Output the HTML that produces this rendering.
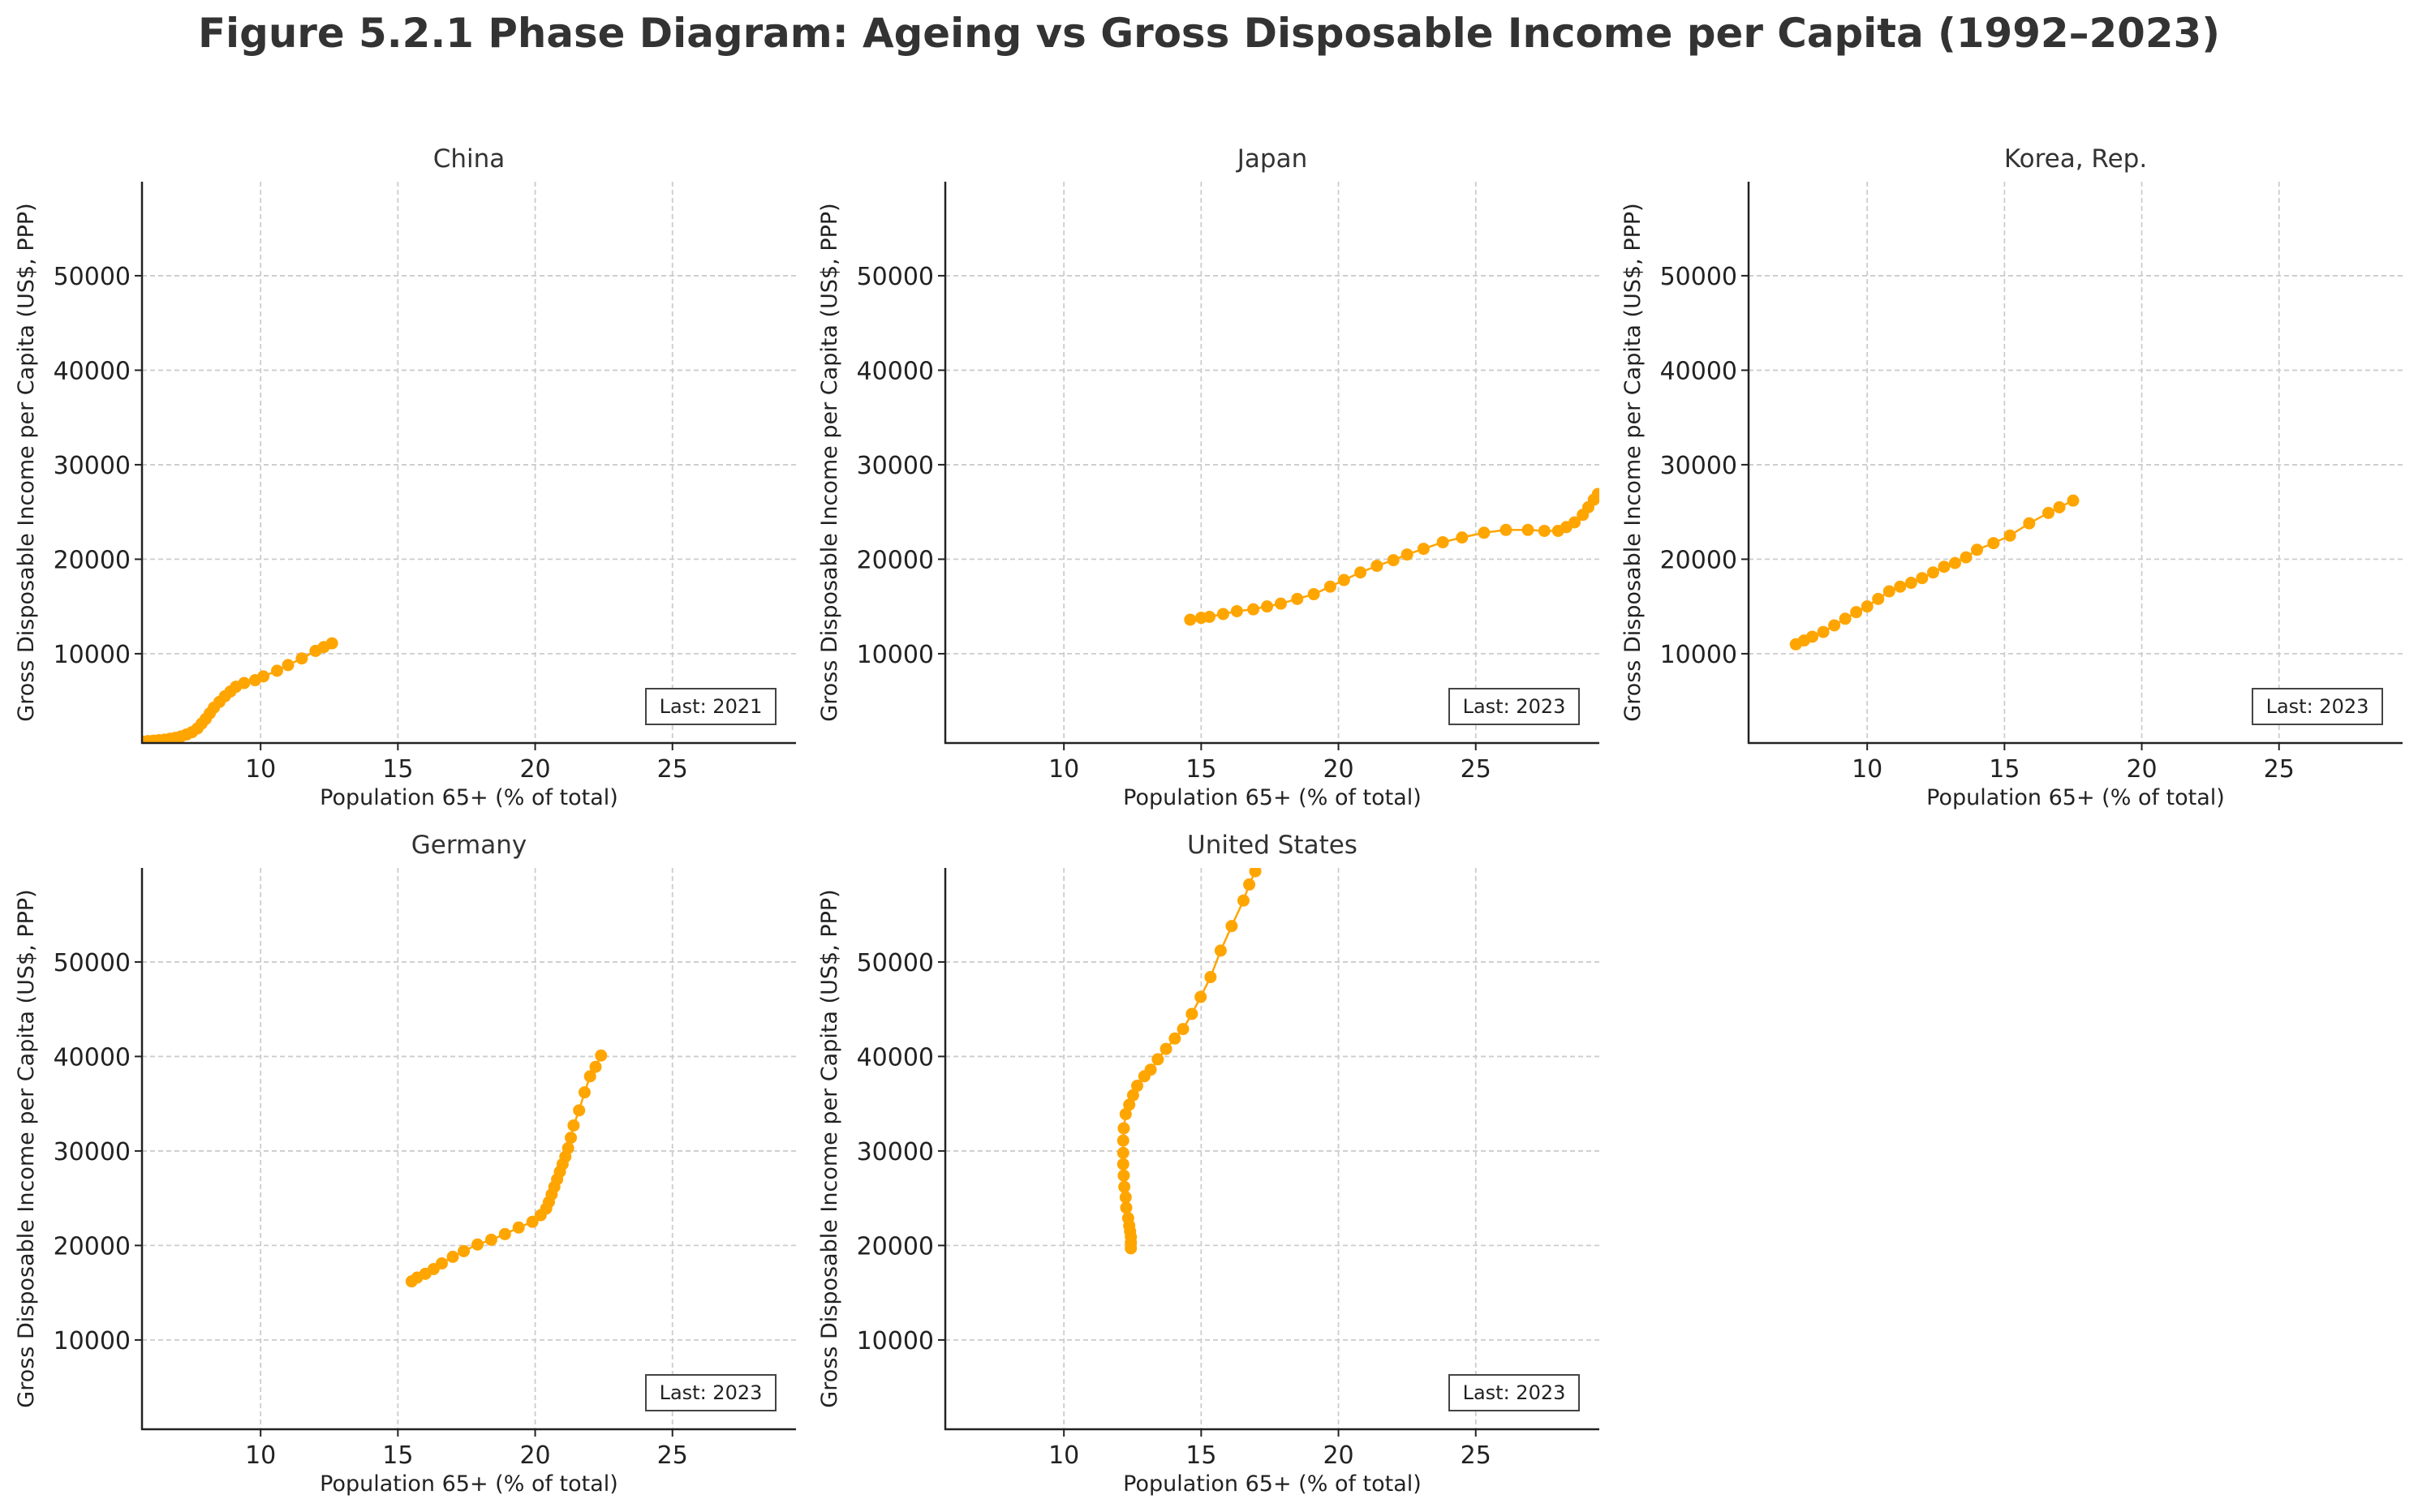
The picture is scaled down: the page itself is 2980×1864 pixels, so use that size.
<!DOCTYPE html>
<html><head><meta charset="utf-8">
<style>
html,body{margin:0;padding:0;background:#fff;}
svg{display:block;font-family:"DejaVu Sans","Liberation Sans",sans-serif;}
</style></head>
<body>
<svg id="s" width="2980" height="1864" viewBox="0 0 2980 1864" xmlns="http://www.w3.org/2000/svg">
<rect width="2980" height="1864" fill="#fff"/>
<text x="1490" y="58" text-anchor="middle" font-size="50" font-weight="bold" fill="#333" textLength="2492" lengthAdjust="spacingAndGlyphs">Figure 5.2.1 Phase Diagram: Ageing vs Gross Disposable Income per Capita (1992–2023)</text>
</svg>
<script>
const NS="http://www.w3.org/2000/svg";
const svg=document.getElementById('s');
function el(t,a,txt){const e=document.createElementNS(NS,t);for(const k in a)e.setAttribute(k,a[k]);if(txt!==undefined)e.textContent=txt;svg.appendChild(e);return e;}
const W=806,H=692,XMIN=5.68,XMAX=29.5,YMIN=550,YMAX=59950;
const panels=[
 {name:"China",x:175,y:224,last:"2021",d:[[5.7,700],[5.9,750],[6.1,800],[6.3,850],[6.5,900],[6.7,1000],[6.9,1100],[7.1,1250],[7.3,1450],[7.5,1700],[7.7,2100],[7.85,2600],[8.0,3100],[8.15,3700],[8.3,4300],[8.5,4900],[8.7,5500],[8.9,6000],[9.1,6500],[9.4,6900],[9.8,7200],[10.1,7600],[10.6,8200],[11.0,8800],[11.5,9500],[12.0,10300],[12.3,10700],[12.6,11100]]},
 {name:"Japan",x:1165,y:224,last:"2023",d:[[14.6,13600],[15.0,13800],[15.3,13900],[15.8,14200],[16.3,14500],[16.9,14700],[17.4,15000],[17.9,15300],[18.5,15800],[19.1,16300],[19.7,17100],[20.2,17800],[20.8,18600],[21.4,19300],[22.0,19900],[22.5,20500],[23.1,21100],[23.8,21800],[24.5,22300],[25.3,22800],[26.1,23100],[26.9,23100],[27.5,23000],[28.0,23000],[28.3,23400],[28.6,23900],[28.9,24700],[29.1,25500],[29.3,26300],[29.45,26900]]},
 {name:"Korea, Rep.",x:2155,y:224,last:"2023",d:[[7.4,11000],[7.7,11400],[8.0,11800],[8.4,12300],[8.8,13000],[9.2,13700],[9.6,14400],[10.0,15000],[10.4,15800],[10.8,16600],[11.2,17100],[11.6,17500],[12.0,18000],[12.4,18600],[12.8,19200],[13.2,19600],[13.6,20200],[14.0,21000],[14.6,21700],[15.2,22500],[15.9,23800],[16.6,24900],[17.0,25500],[17.5,26200]]},
 {name:"Germany",x:175,y:1070,last:"2023",d:[[15.5,16200],[15.7,16600],[16.0,17000],[16.3,17500],[16.6,18100],[17.0,18800],[17.4,19400],[17.9,20100],[18.4,20600],[18.9,21200],[19.4,21900],[19.9,22500],[20.2,23200],[20.4,23900],[20.5,24600],[20.6,25400],[20.7,26200],[20.8,27000],[20.9,27800],[21.0,28600],[21.1,29400],[21.2,30300],[21.3,31400],[21.4,32700],[21.6,34300],[21.8,36200],[22.0,37900],[22.2,38900],[22.4,40100]]},
 {name:"United States",x:1165,y:1070,last:"2023",d:[[12.44,19700],[12.44,20300],[12.44,20900],[12.41,21500],[12.38,22100],[12.34,22900],[12.27,24000],[12.25,25100],[12.2,26200],[12.18,27400],[12.16,28600],[12.16,29800],[12.16,31100],[12.18,32400],[12.25,33900],[12.38,34900],[12.52,35900],[12.67,36900],[12.93,37900],[13.16,38600],[13.42,39700],[13.72,40800],[14.04,41900],[14.34,42900],[14.66,44500],[14.98,46300],[15.34,48400],[15.71,51200],[16.11,53800],[16.54,56500],[16.75,58200],[16.97,59600]]}
];
panels.forEach((p,i)=>{
 const X=v=>p.x+(v-XMIN)/(XMAX-XMIN)*W, Y=v=>p.y+H-(v-YMIN)/(YMAX-YMIN)*H;
 const cid="c"+i;
 const cp=el('clipPath',{id:cid});const r=document.createElementNS(NS,'rect');
 r.setAttribute('x',p.x);r.setAttribute('y',p.y);r.setAttribute('width',W);r.setAttribute('height',H);cp.appendChild(r);
 [10,15,20,25].forEach(t=>{el('line',{x1:X(t),x2:X(t),y1:p.y,y2:p.y+H,stroke:'#ccc','stroke-width':1.8,'stroke-dasharray':'6,4'});
  el('line',{x1:X(t),x2:X(t),y1:p.y+H,y2:p.y+H+9,stroke:'#222','stroke-width':2});
  el('text',{x:X(t),y:p.y+H+42,'text-anchor':'middle','font-size':30,fill:'#222'},t);});
 [10000,20000,30000,40000,50000].forEach(t=>{el('line',{x1:p.x,x2:p.x+W,y1:Y(t),y2:Y(t),stroke:'#ccc','stroke-width':1.8,'stroke-dasharray':'6,4'});
  el('line',{x1:p.x-9,x2:p.x,y1:Y(t),y2:Y(t),stroke:'#222','stroke-width':2});
  el('text',{x:p.x-14,y:Y(t)+11,'text-anchor':'end','font-size':30,fill:'#222'},t);});
 const g=el('g',{'clip-path':'url(#'+cid+')'});
 const pl=document.createElementNS(NS,'polyline');
 pl.setAttribute('points',p.d.map(q=>X(q[0])+','+Y(q[1])).join(' '));
 pl.setAttribute('fill','none');pl.setAttribute('stroke','#ffa500');pl.setAttribute('stroke-width',2.5);g.appendChild(pl);
 p.d.forEach(q=>{const c=document.createElementNS(NS,'circle');c.setAttribute('cx',X(q[0]));c.setAttribute('cy',Y(q[1]));c.setAttribute('r',7.5);c.setAttribute('fill','#ffa500');g.appendChild(c);});
 el('line',{x1:p.x,x2:p.x,y1:p.y,y2:p.y+H+1,stroke:'#222','stroke-width':2.5});
 el('line',{x1:p.x-1,x2:p.x+W,y1:p.y+H,y2:p.y+H,stroke:'#222','stroke-width':2.5});
 el('text',{x:p.x+W/2,y:p.y-18,'text-anchor':'middle','font-size':31,fill:'#333'},p.name);
 el('text',{x:p.x+W/2,y:p.y+H+76,'text-anchor':'middle','font-size':27,fill:'#222'},'Population 65+ (% of total)');
 el('text',{x:0,y:0,transform:'translate('+(p.x-134)+','+(p.y+H/2)+') rotate(-90)','text-anchor':'middle','font-size':27,fill:'#222'},'Gross Disposable Income per Capita (US$, PPP)');
 el('rect',{x:p.x+W-185,y:p.y+H-67,width:160,height:44,fill:'#fff',stroke:'#444','stroke-width':2});
 el('text',{x:p.x+W-105,y:p.y+H-37,'text-anchor':'middle','font-size':24,fill:'#222'},'Last: '+p.last);
});
</script>
</body></html>
